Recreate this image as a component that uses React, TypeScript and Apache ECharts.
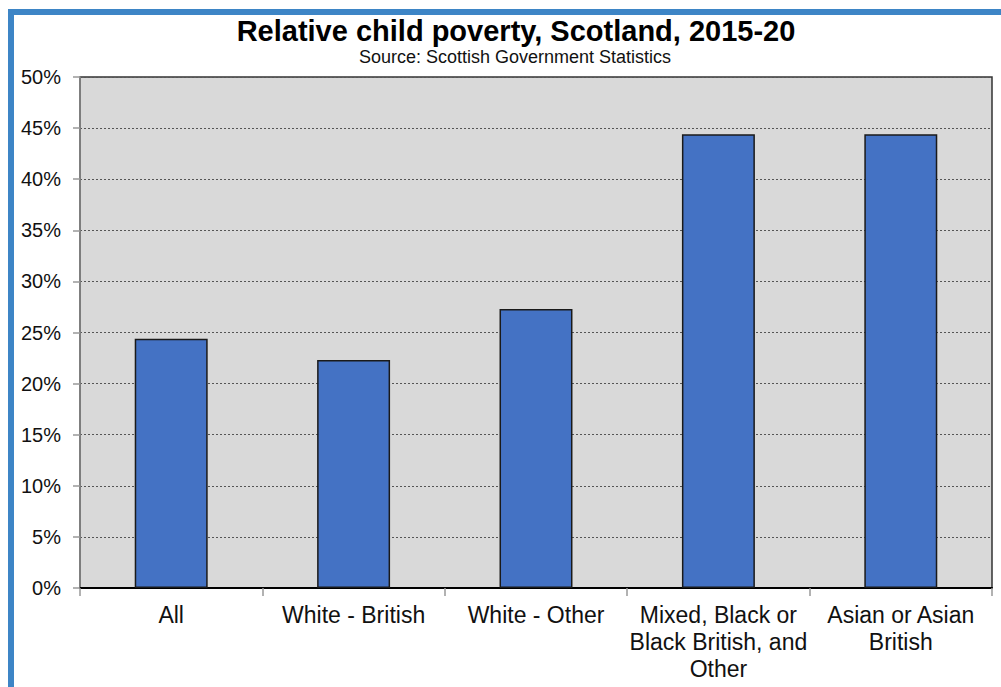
import React, { useEffect, useRef } from "react";
import * as echarts from "echarts";

const categories = [
  "All",
  "White - British",
  "White - Other",
  "Mixed, Black or\nBlack British, and\nOther",
  "Asian or Asian\nBritish",
];
const povertyRates = [24.4, 22.3, 27.3, 44.4, 44.4];
const titleText = "Relative child poverty, Scotland, 2015-20";
const subtitleText = "Source: Scottish Government Statistics";

const FONT = "Liberation Sans, Arial, sans-serif";

export default function App() {
  const ref = useRef<HTMLDivElement>(null);
  useEffect(() => {
    if (!ref.current) return;
    const chart = echarts.init(ref.current, undefined, { renderer: "svg" });
    chart.setOption({
      animation: false,
      backgroundColor: "#ffffff",
      graphic: [
        { type: "rect", shape: { x: 8, y: 9, width: 6, height: 700 }, style: { fill: "#3d85c6" }, z: 10 },
        { type: "rect", shape: { x: 8, y: 9, width: 1000, height: 6 }, style: { fill: "#3d85c6" }, z: 10 },
        {
          type: "text",
          x: 516,
          y: 31,
          style: {
            text: titleText,
            font: `bold 29px ${FONT}`,
            fill: "#000",
            align: "center",
            verticalAlign: "middle",
          },
        },
        {
          type: "text",
          x: 515,
          y: 57,
          style: {
            text: subtitleText,
            font: `18px ${FONT}`,
            fill: "#111",
            align: "center",
            verticalAlign: "middle",
          },
        },
      ],
      grid: {
        left: 80,
        top: 77,
        right: 9,
        bottom: 99,
        show: true,
        backgroundColor: "#d9d9d9",
        borderColor: "#333",
        borderWidth: 1.5,
      },
      xAxis: {
        type: "category",
        data: categories,
        axisLine: { show: true, lineStyle: { color: "#000", width: 2 } },
        axisTick: { show: true, length: 8, lineStyle: { color: "#999", width: 1.5 } },
        axisLabel: {
          interval: 0,
          color: "#111",
          fontFamily: FONT,
          fontSize: 23,
          lineHeight: 27,
          margin: 13,
        },
      },
      yAxis: {
        type: "value",
        min: 0,
        max: 50,
        interval: 5,
        axisLine: { show: true, lineStyle: { color: "#888", width: 1.5 } },
        axisTick: { show: true, length: 7, lineStyle: { color: "#999", width: 1.5 } },
        axisLabel: {
          formatter: "{value}%",
          color: "#111",
          fontFamily: FONT,
          fontSize: 20,
          margin: 19,
        },
        splitLine: {
          show: true,
          lineStyle: { color: "#555", type: [2, 2], width: 1.2 },
        },
      },
      series: [
        {
          type: "bar",
          data: povertyRates,
          barWidth: "40%",
          itemStyle: { color: "#4472c4", borderColor: "#1a1a1a", borderWidth: 1.5 },
        },
      ],
    });
    return () => chart.dispose();
  }, []);
  return (
    <div
      ref={ref}
      style={{ position: "absolute", left: 0, top: 0, width: 1001, height: 687 }}
    />
  );
}
